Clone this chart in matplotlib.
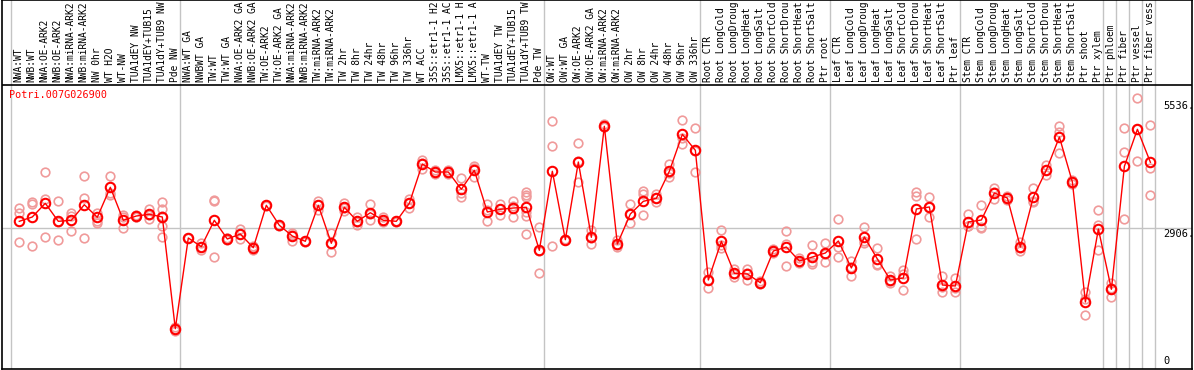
import matplotlib
matplotlib.use("Agg")
import matplotlib.pyplot as plt

gene = "Potri.007G026900"

labels = [
    "NWA:WT", "NWB:WT", "NWA:OE-ARK2", "NWB:OE-ARK2", "NWA:miRNA-ARK2", "NWB:miRNA-ARK2",
    "NW 0hr", "WT H2O", "WT-NW", "TUA1dEY NW", "TUA1dEY+TUB15 NW", "TUA1dY+TUB9 NW", "Pde NW",
    "NWA:WT GA", "NWBWT GA", "TW:WT", "TW:WT GA", "NWA:OE-ARK2 GA", "NWB:OE-ARK2 GA",
    "TW:OE-ARK2", "TW:OE-ARK2 GA", "NWA:miRNA-ARK2", "NWB:miRNA-ARK2", "TW:miRNA-ARK2",
    "TW:miRNA-ARK2", "TW 2hr", "TW 8hr", "TW 24hr", "TW 48hr", "TW 96hr", "TW 336hr", "WT ACC",
    "35S::etr1-1 H2O", "35S::etr1-1 ACC", "LMX5::etr1-1 H2O", "LMX5::etr1-1 ACC", "WT-TW",
    "TUA1dEY TW", "TUA1dEY+TUB15 TW", "TUA1dY+TUB9 TW", "Pde TW",
    "OW:WT", "OW:WT GA", "OW:OE-ARK2", "OW:OE-ARK2 GA", "OW:miRNA-ARK2", "OW:miRNA-ARK2",
    "OW 2hr", "OW 8hr", "OW 24hr", "OW 48hr", "OW 96hr", "OW 336hr",
    "Root CTR", "Root LongCold", "Root LongDrought", "Root LongHeat", "Root LongSalt",
    "Root ShortCold", "Root ShortDrought", "Root ShortHeat", "Root ShortSalt", "Ptr root",
    "Leaf CTR", "Leaf LongCold", "Leaf LongDrought", "Leaf LongHeat", "Leaf LongSalt",
    "Leaf ShortCold", "Leaf ShortDrought", "Leaf ShortHeat", "Leaf ShortSalt", "Ptr leaf",
    "Stem CTR", "Stem LongCold", "Stem LongDrought", "Stem LongHeat", "Stem LongSalt",
    "Stem ShortCold", "Stem ShortDrought", "Stem ShortHeat", "Stem ShortSalt", "Ptr shoot",
    "Ptr xylem", "Ptr phloem", "Ptr fiber", "Ptr vessel", "Ptr fiber vessel",
]

means = [
    3044, 3133, 3415, 3044, 3065, 3386, 3127, 3745, 3065, 3153, 3188, 3133, 831,
    2700, 2521, 3065, 2679, 2782, 2500, 3374, 2962, 2741, 2632, 3374, 2591, 3333,
    3044, 3221, 3065, 3044, 3415, 4225, 4060, 4060, 3704, 4095, 3236, 3291, 3318,
    3333, 2446,
    4075, 2665, 4266, 2714, 5002, 2576, 3195, 3456, 3518, 4075, 4837, 4507,
    1834, 2632, 1972, 1958, 1779, 2432, 2514, 2226, 2308, 2391,
    2638, 2082, 2721, 2267, 1834, 1876, 3298, 3339, 1731, 1711,
    3030, 3071, 3627, 3524, 2514, 3545, 4101, 4781, 3854, 1381,
    2885, 1643, 4178, 4940, 4260,
]

reps = [
    [3318, 3221, 2624], [3442, 3394, 2535], [4054, 3498, 2714], [3456, 3023, 2653],
    [3221, 3153, 2838], [3972, 3524, 2700], [3221, 3057, 3003], [3972, 3621, 3580],
    [3180, 3139, 2912], [3180, 3139, 3140], [3304, 3085, 3175],
    [3442, 3304, 2953, 2714, 3150], [872, 789, 830],
    [2690, 2710, 2700], [2591, 2453, 2520], [3483, 3469, 2308], [2660, 2690, 2690],
    [2885, 2673, 2790], [2535, 2453, 2510], [3360, 3380, 3382], [2950, 2970, 2966],
    [2809, 2644, 2770], [2620, 2640, 2636], [3456, 3277, 3390], [2797, 2405, 2570],
    [3427, 3250, 3322], [3127, 2974, 3030], [3401, 3065, 3197], [3127, 3044, 3024],
    [3030, 3050, 3052], [3510, 3324, 3411], [4307, 4116, 4252], [4101, 4013, 4066],
    [4101, 4013, 4066], [3930, 3621, 3539], [4136, 3963, 4186], [3394, 3044, 3270],
    [3401, 3174, 3298], [3469, 3127, 3358], [3648, 3586, 3539, 3236, 3153, 2782],
    [2927, 1972, 2440],
    [5105, 4590, 2535], [2650, 2680, 2665], [4658, 3848, 4290], [2865, 2570, 2707],
    [5043, 4980, 4983], [2659, 2521, 2548], [3394, 3003, 3188], [3662, 3607, 3168],
    [3601, 3436, 3517], [4225, 3963, 4037], [5126, 4631, 4754], [4961, 4060, 4500],
    [1999, 1663, 1840], [2859, 2488, 2549], [2067, 1890, 1959], [2055, 1834, 1985],
    [1814, 1760, 1763], [2473, 2391, 2432], [2844, 2576, 2122], [2288, 2185, 2205],
    [2556, 2205, 2163], [2597, 2205, 2371],
    [3092, 2514, 2308], [2226, 1917, 2103], [2927, 2597, 2638], [2494, 2143, 2164],
    [1917, 1772, 1813], [2040, 1628, 1960], [3648, 3566, 2680], [3545, 3133, 3339],
    [1917, 1587, 1690], [1876, 1587, 1670],
    [3195, 2947, 2948], [3380, 2926, 2907], [3730, 3504, 3647], [3566, 3483, 3523],
    [2617, 2432, 2493], [3730, 3462, 3443], [4204, 3998, 4101], [5008, 4884, 4451],
    [3895, 3813, 3854], [1443, 1113, 1587],
    [3277, 2962, 2459], [1779, 1490, 1660], [4961, 4466, 3085], [5579, 4287, 4954],
    [5029, 4143, 3580],
]

group_starts = [0, 13, 41, 53, 63, 73, 84, 85, 86, 87, 88]
ticks_shown = [5536, 2906, 0]
max_chars = 14  # the label strip only holds 14 characters

plt.rcParams["font.family"] = "DejaVu Sans Mono"

fig = plt.figure(figsize=(11.94, 3.70), dpi=100)
ax = fig.add_axes([2 / 1194, 1 / 370, 1190 / 1194, 369 / 370])

n = len(labels)
xs = list(range(n))
ax.set_xlim(-1.33, 90.2)
ax.set_ylim(0, 7605)
ax.set_xticks([])
ax.set_yticks([])
for s in ax.spines.values():
    s.set_color("black")
    s.set_linewidth(1.2)

# separators between sample groups, full height
for g in group_starts:
    ax.axvline(g - 0.62, color="#c4c4c4", lw=1.0, zorder=0)
ax.axhline(2906, color="#c4c4c4", lw=1.0, zorder=0)

# boundary between label strip and plot
ax.axhline(5853, color="black", lw=1.2, zorder=1)

# rotated sample labels
for x, lab in zip(xs, labels):
    ax.text(x - 0.05, 5915, lab[:max_chars].rstrip(), rotation=90, ha="center",
            va="bottom", fontsize=6.9, color="black")

# replicate points
for x, r in zip(xs, reps):
    ax.plot([x] * len(r), r, linestyle="none", marker="o", ms=6.2,
            mfc="none", mec="#f09a9a", mew=1.2, zorder=2)

# mean line and points
ax.plot(xs, means, color="red", lw=1.0, zorder=3)
ax.plot(xs, means, linestyle="none", marker="o", ms=6.8, mfc="none",
        mec="red", mew=1.5, zorder=4)

ax.text(-0.76, 5650, gene, color="red", fontsize=7.3, ha="left", va="center")

for t in ticks_shown:
    if t == 0:
        ax.text(87.98, t + 60, str(t), fontsize=7.5, ha="left", va="bottom")
    else:
        ax.text(87.98, t - 20, "%d." % t, fontsize=7.5, ha="left", va="top")

fig.savefig("out.png", dpi=100)
